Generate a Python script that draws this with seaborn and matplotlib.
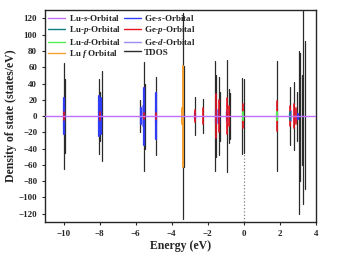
import seaborn as sns
import numpy as np
import matplotlib.pyplot as plt
import pandas as pd

# peak positions (eV) and heights (spin up / spin down)
tdos_e    = [-10.0, -9.93, -8.05, -7.95, -7.88, -5.75, -5.55, -5.5, -4.85, -3.35, -3.3,
             -2.7, -2.25, -1.6, -1.55, -1.35, -1.3, -0.95, -0.8, -0.75, -0.08, 0.0,
             1.85, 2.55, 2.8, 2.95, 3.05, 3.15, 3.25, 3.3, 3.38]
tdos_up   = [65, 45, 46, 30, 55, 20, 67, 40, 48, 127, 62,
             23, 21, 68, 50, 48, 30, 69, 33, 28, 47, 45,
             68, 36, 42, 30, 80, 77, 50, 130, 92]
tdos_down = [65, 45, 46, 30, 55, 20, 67, 40, 48, 127, 62,
             23, 21, 68, 50, 48, 30, 69, 33, 28, 47, 45,
             68, 36, 42, 30, 120, 80, 60, 108, 90]

ges_e  = [-10.0, -8.05, -7.92, -5.7, -5.55, -4.85, -3.35, -2.7, -1.55, -1.35, -0.95, 1.85, 2.55, 3.0]
ges_h  = [22, 25, 22, 10, 35, 28, 5, 4, 8, 8, 5, 4, 4, 3]
gep_e  = [-10.0, -8.0, -5.55, -4.85, -2.7, -2.25, -1.55, -1.35, -0.95, -0.8, -0.05, 1.85, 2.55, 2.8, 2.9]
gep_h  = [5, 5, 4, 4, 7, 10, 27, 20, 22, 12, 15, 18, 12, 15, 10]
ged_e  = [-10.0, -7.95, -5.6, -4.85, -1.5, -0.9, 2.6, 2.9]
ged_h  = [10, 12, 12, 10, 8, 8, 6, 6]
luf_e  = [-3.35, -3.4]
luf_h  = [62, 10]
lud_e  = [-0.02, 1.85]
lud_h  = [5, 5]
lup_e  = [2.55]
lup_h  = [5]
lus_e  = [-11.0, 4.0]
fermi_e = [0.0, 0.0]
fermi_y = [-130, -47]

def spikes(energies, up, down):
    rows = []
    for i, (e, u, d) in enumerate(zip(energies, up, down)):
        rows.append((i, e, u))
        rows.append((i, e, -d))
    return pd.DataFrame(rows, columns=["peak", "Energy", "DOS"])

sns.set_theme(style="ticks")
plt.rcParams['font.family'] = ['Liberation Serif', 'DejaVu Serif']
plt.rcParams['font.weight'] = 'bold'
plt.rcParams['mathtext.fontset'] = 'custom'
plt.rcParams['mathtext.rm'] = 'Liberation Serif:bold'
plt.rcParams['mathtext.it'] = 'Liberation Serif:italic:bold'

fig, ax = plt.subplots(figsize=(3.37, 2.58), dpi=100)
fig.subplots_adjust(left=0.135, right=0.937, top=0.96, bottom=0.14)

ax.plot(fermi_e, fermi_y, color="gray", ls=":", lw=0.9, zorder=1)

series = [
    ("TDOS", tdos_e, tdos_up, tdos_down, "#2b2b2b", 0.9),
    ("Ge-$\\it{d}$-Orbital", ged_e, ged_h, ged_h, "#9a8cf0", 1.6),
    ("Ge-$\\it{s}$-Orbital", ges_e, ges_h, ges_h, "#2f3cf5", 1.6),
    ("Ge-$\\it{p}$-Orbital", gep_e, gep_h, gep_h, "#e8141e", 1.2),
    ("Lu $\\it{f}$ Orbital", luf_e, luf_h, luf_h, "#f5a030", 1.4),
    ("Lu-$\\it{d}$-Orbital", lud_e, lud_h, lud_h, "#50f050", 1.4),
    ("Lu-$\\it{p}$-Orbital", lup_e, lup_h, lup_h, "#0e7f7f", 1.4),
]
handles = {}
for i, (name, e, u, d, c, lw) in enumerate(series):
    df = spikes(e, u, d)
    sns.lineplot(data=df, x="Energy", y="DOS", units="peak", estimator=None, sort=False,
                 color=c, lw=lw, ax=ax, zorder=2 + i)
    handles[name] = plt.Line2D([], [], color=c, lw=1.0)

lus = pd.DataFrame({"Energy": lus_e, "DOS": [0, 0]})
sns.lineplot(data=lus, x="Energy", y="DOS", color="#c070ff", lw=1.0, ax=ax, zorder=10)
handles["Lu-$\\it{s}$-Orbital"] = plt.Line2D([], [], color="#c070ff", lw=1.0)

order = ["Lu-$\\it{s}$-Orbital", "Lu-$\\it{p}$-Orbital", "Lu-$\\it{d}$-Orbital", "Lu $\\it{f}$ Orbital",
         "Ge-$\\it{s}$-Orbital", "Ge-$\\it{p}$-Orbital", "Ge-$\\it{d}$-Orbital", "TDOS"]
ax.legend([handles[k] for k in order], order, ncol=2, loc="upper left", frameon=False,
          handlelength=1.9, columnspacing=0.4, labelspacing=0.12, handletextpad=0.35,
          borderaxespad=0.1, borderpad=0.2, bbox_to_anchor=(0.0, 1.0),
          prop={'weight': 'bold', 'size': 6.5})

ax.set_xlim(-11, 4)
ax.set_ylim(-130, 130)
ax.set_xticks(np.arange(-10, 5, 2))
ax.set_yticks(np.arange(-120, 121, 20))
ax.tick_params(labelsize=6.5, length=2.5, width=0.8, direction="out")
for lab in ax.get_xticklabels() + ax.get_yticklabels():
    lab.set_fontweight("bold")
for sp in ax.spines.values():
    sp.set_linewidth(1.0)
ax.set_xlabel("Energy (eV)", fontsize=8.5, fontweight="bold", labelpad=1)
ax.set_ylabel("Density of state (states/eV)", fontsize=8.5, fontweight="bold", labelpad=1)

plt.savefig("out.png", dpi=100)
